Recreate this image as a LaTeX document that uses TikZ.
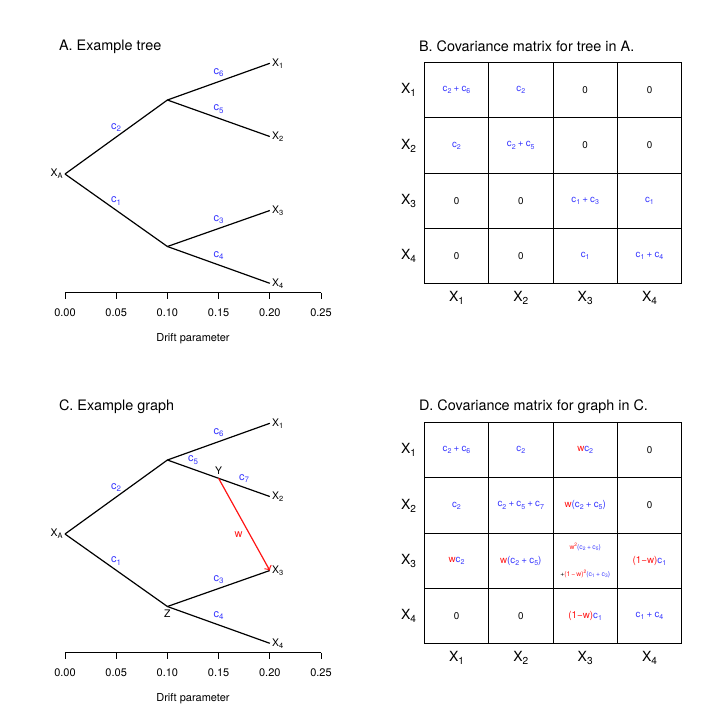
\documentclass[tikz,border=0pt]{standalone}
\usepackage{fontspec}
\setmainfont{TeX Gyre Heros}
\usepackage{graphicx}
\usepackage{tikz}
\usetikzlibrary{calc}

\definecolor{cblue}{RGB}{55,55,255}
\definecolor{wred}{RGB}{255,20,20}
\newcommand{\sbs}[1]{\raisebox{-0.4ex}{\scalebox{0.72}{#1}}}
\newcommand{\sps}[1]{\raisebox{0.75ex}{\scalebox{0.72}{#1}}}
\newcommand{\xv}[1]{X\sbs{#1}}
\newcommand{\cv}[1]{c\sbs{#1}}
\newcommand{\pl}{\hspace{0.22em}+\hspace{0.22em}}
\newcommand{\rw}[1]{\textcolor{wred}{#1}}
\newcommand{\bc}[1]{\textcolor{cblue}{#1}}

\begin{document}
\begin{tikzpicture}[x=0.5pt,y=-0.5pt,
    title/.style={anchor=west, font=\fontsize{7.2}{8.5}\selectfont},
    tiplab/.style={anchor=west, inner sep=1pt, font=\fontsize{5.2}{6}\selectfont},
    brlab/.style={midway, yshift=4.6pt, text=cblue, font=\fontsize{5.5}{6.5}\selectfont},
    ticklab/.style={font=\fontsize{5.5}{6.5}\selectfont},
    mlab/.style={font=\fontsize{7}{8.5}\selectfont},
    cell/.style={font=\fontsize{4.9}{6}\selectfont},
    tinycell/.style={font=\fontsize{3.4}{4}\selectfont},
    branch/.style={line width=0.6pt}]
    \useasboundingbox (0,0) rectangle (720,720);

    % ---------------- A. Example tree ----------------
    \node[title] (atitle) at (52,46.7) {A. Example tree};
    \coordinate (aroot) at (65,174);
    \coordinate (atop) at (167.4,100);
    \coordinate (abot) at (167.4,246.5);
    \coordinate (ax1) at (269.8,63.3);
    \coordinate (ax2) at (269.8,136.5);
    \coordinate (ax3) at (269.8,210.5);
    \coordinate (ax4) at (269.8,283.3);
    \draw[branch] (aroot) -- (atop) node[brlab] (ac2) {\cv{2}};
    \draw[branch] (aroot) -- (abot) node[brlab] (ac1) {\cv{1}};
    \draw[branch] (atop) -- (ax1) node[brlab] (ac6) {\cv{6}};
    \draw[branch] (atop) -- (ax2) node[brlab] (ac5) {\cv{5}};
    \draw[branch] (abot) -- (ax3) node[brlab] (ac3) {\cv{3}};
    \draw[branch] (abot) -- (ax4) node[brlab] (ac4) {\cv{4}};
    \node[tiplab, anchor=east] (axa) at (aroot) {\xv{A}};
    \foreach \i in {1,...,4}
        \node[tiplab] (axl\i) at (ax\i) {\xv{\i}};

    % axis
    \draw (65,292.7) -- (321,292.7);
    \foreach \t [count=\k from 0] in {0.00,0.05,0.10,0.15,0.20,0.25} {
        \draw ({65+51.2*\k},292.7) -- ({65+51.2*\k},298.5);
        \node[ticklab] (at\k) at ({65+51.2*\k},313) {\t};
    }
    \node[ticklab] (adrift) at (193,339) {Drift parameter};

    % ---------------- B. Covariance matrix (tree) ----------------
    \node[title] (btitle) at (412,46.7) {B. Covariance matrix for tree in A.};
    \foreach \k in {0,...,4} {
        \draw ({424.3+64.35*\k},62.7) -- ({424.3+64.35*\k},283.3);
        \draw (424.3,{62.7+55.15*\k}) -- (681.7,{62.7+55.15*\k});
    }
    \foreach \i in {1,...,4} {
        \node[mlab] (brow\i) at (408.5,{90.3+55.15*(\i-1)}) {\xv{\i}};
        \node[mlab] (bcol\i) at ({456.5+64.35*(\i-1)},298) {\xv{\i}};
    }
    % row 1
    \node[cell, text=cblue] (b11) at (456.5,90.3) {\cv{2}\pl\cv{6}};
    \node[cell, text=cblue] (b12) at (520.8,90.3) {\cv{2}};
    \node[cell] (b13) at (585.2,90.3) {0};
    \node[cell] (b14) at (649.5,90.3) {0};
    % row 2
    \node[cell, text=cblue] (b21) at (456.5,145.4) {\cv{2}};
    \node[cell, text=cblue] (b22) at (520.8,145.4) {\cv{2}\pl\cv{5}};
    \node[cell] (b23) at (585.2,145.4) {0};
    \node[cell] (b24) at (649.5,145.4) {0};
    % row 3
    \node[cell] (b31) at (456.5,200.6) {0};
    \node[cell] (b32) at (520.8,200.6) {0};
    \node[cell, text=cblue] (b33) at (585.2,200.6) {\cv{1}\pl\cv{3}};
    \node[cell, text=cblue] (b34) at (649.5,200.6) {\cv{1}};
    % row 4
    \node[cell] (b41) at (456.5,255.7) {0};
    \node[cell] (b42) at (520.8,255.7) {0};
    \node[cell, text=cblue] (b43) at (585.2,255.7) {\cv{1}};
    \node[cell, text=cblue] (b44) at (649.5,255.7) {\cv{1}\pl\cv{4}};

    % ---------------- C. Example graph ----------------
    \node[title] (ctitle) at (52,406.7) {C. Example graph};
    \coordinate (croot) at (65,534);
    \coordinate (ctop) at (167.4,460);
    \coordinate (cbot) at (167.4,606.5);
    \coordinate (cy) at (218.6,478.3);
    \coordinate (cx1) at (269.8,423.3);
    \coordinate (cx2) at (269.8,496.5);
    \coordinate (cx3) at (269.8,570.5);
    \coordinate (cx4) at (269.8,643.3);
    \draw[branch] (croot) -- (ctop) node[brlab] (cc2) {\cv{2}};
    \draw[branch] (croot) -- (cbot) node[brlab] (cc1) {\cv{1}};
    \draw[branch] (ctop) -- (cx1) node[brlab] (cc6) {\cv{6}};
    \draw[branch] (ctop) -- (cy) node[brlab] (cc5) {\cv{5}};
    \draw[branch] (cy) -- (cx2) node[brlab] (cc7) {\cv{7}};
    \draw[branch] (cbot) -- (cx3) node[brlab] (cc3) {\cv{3}};
    \draw[branch] (cbot) -- (cx4) node[brlab] (cc4) {\cv{4}};
    \draw[wred, line width=0.6pt, ->] (cy) -- (cx3)
        node[midway, xshift=-2.8pt, yshift=-5pt, font=\fontsize{5.5}{6.5}\selectfont] (cw) {w};
    \node[tiplab, anchor=south, inner sep=0pt] (cylab) at ($(cy)+(0,-3)$) {Y};
    \node[tiplab, anchor=north, inner sep=0pt] (czlab) at ($(cbot)+(0,3)$) {Z};
    \node[tiplab, anchor=east] (cxa) at (croot) {\xv{A}};
    \foreach \i in {1,...,4}
        \node[tiplab] (cxl\i) at (cx\i) {\xv{\i}};

    % axis
    \draw (65,652.7) -- (321,652.7);
    \foreach \t [count=\k from 0] in {0.00,0.05,0.10,0.15,0.20,0.25} {
        \draw ({65+51.2*\k},652.7) -- ({65+51.2*\k},658.5);
        \node[ticklab] (ct\k) at ({65+51.2*\k},673) {\t};
    }
    \node[ticklab] (cdrift) at (193,699) {Drift parameter};

    % ---------------- D. Covariance matrix (graph) ----------------
    \node[title] (dtitle) at (412,406.7) {D. Covariance matrix for graph in C.};
    \foreach \k in {0,...,4} {
        \draw ({424.3+64.35*\k},422.7) -- ({424.3+64.35*\k},643.3);
        \draw (424.3,{422.7+55.15*\k}) -- (681.7,{422.7+55.15*\k});
    }
    \foreach \i in {1,...,4} {
        \node[mlab] (drow\i) at (408.5,{450.3+55.15*(\i-1)}) {\xv{\i}};
        \node[mlab] (dcol\i) at ({456.5+64.35*(\i-1)},658) {\xv{\i}};
    }
    % row 1
    \node[cell, text=cblue] (d11) at (456.5,450.3) {\cv{2}\pl\cv{6}};
    \node[cell, text=cblue] (d12) at (520.8,450.3) {\cv{2}};
    \node[cell] (d13) at (585.2,450.3) {\rw{w}\bc{\cv{2}}};
    \node[cell] (d14) at (649.5,450.3) {0};
    % row 2
    \node[cell, text=cblue] (d21) at (456.5,505.4) {\cv{2}};
    \node[cell, text=cblue] (d22) at (520.8,505.4) {\cv{2}\pl\cv{5}\pl\cv{7}};
    \node[cell] (d23) at (585.2,505.4) {\rw{w}\bc{(\cv{2}\pl\cv{5})}};
    \node[cell] (d24) at (649.5,505.4) {0};
    % row 3
    \node[cell] (d31) at (456.5,560.6) {\rw{w}\bc{\cv{2}}};
    \node[cell] (d32) at (520.8,560.6) {\rw{w}\bc{(\cv{2}\pl\cv{5})}};
    \node[tinycell] (d33a) at (585.2,546.7) {\rw{w\sps{2}}\bc{(\cv{2}\pl\cv{5})}};
    \node[tinycell] (d33b) at (585.2,574) {+\rw{(1\hspace{0.15em}−\hspace{0.15em}w)\sps{2}}\bc{(\cv{1}\pl\cv{3})}};
    \node[cell] (d34) at (649.5,560.6) {\rw{(1−w)}\bc{\cv{1}}};
    % row 4
    \node[cell] (d41) at (456.5,615.7) {0};
    \node[cell] (d42) at (520.8,615.7) {0};
    \node[cell] (d43) at (585.2,615.7) {\rw{(1−w)}\bc{\cv{1}}};
    \node[cell, text=cblue] (d44) at (649.5,615.7) {\cv{1}\pl\cv{4}};
\end{tikzpicture}
\end{document}
